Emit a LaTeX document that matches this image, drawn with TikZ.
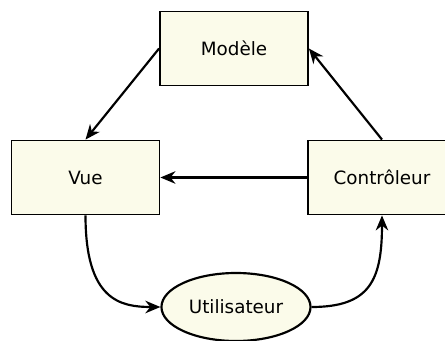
\documentclass[tikz,border=0pt]{standalone}
\usepackage{fontspec}
\setmainfont{DejaVu Sans}
\usepackage{tikz}
\usetikzlibrary{arrows.meta,shapes.geometric}
\definecolor{cream}{RGB}{251,251,234}

\begin{document}
\begin{tikzpicture}[x=0.6pt,y=0.6pt,
    box/.style={draw,line width=1.1pt,fill=cream,minimum width=88.8pt,minimum height=44.4pt,font=\fontsize{11}{13}\selectfont},
    actor/.style={draw,ellipse,line width=1.3pt,fill=cream,minimum width=88.8pt,minimum height=40.8pt,font=\fontsize{11}{13}\selectfont},
    link/.style={line width=1.3pt,-{Stealth[length=9pt,width=7.5pt]}}]
  \useasboundingbox (0,0) rectangle (445,341);

  %the three parts
  \node[box] (modele) at (234,292.5) {Modèle};
  \node[box] (vue) at (85.5,163.5) {Vue};
  \node[box] (ctrl) at (382,163.5) {Contrôleur};

  %the user
  \node[actor] (user) at (236,34) {Utilisateur};

  \draw[link] (modele.west) -- (vue.north);
  \draw[link] (ctrl.north) -- (modele.east);
  \draw[link] (ctrl.west) -- (vue.east);
  \draw[link] (vue.south) .. controls (85.5,41) and (120,34) .. (user.west);
  \draw[link] (user.east) .. controls (370,34) and (382,61) .. (ctrl.south);
\end{tikzpicture}
\end{document}
